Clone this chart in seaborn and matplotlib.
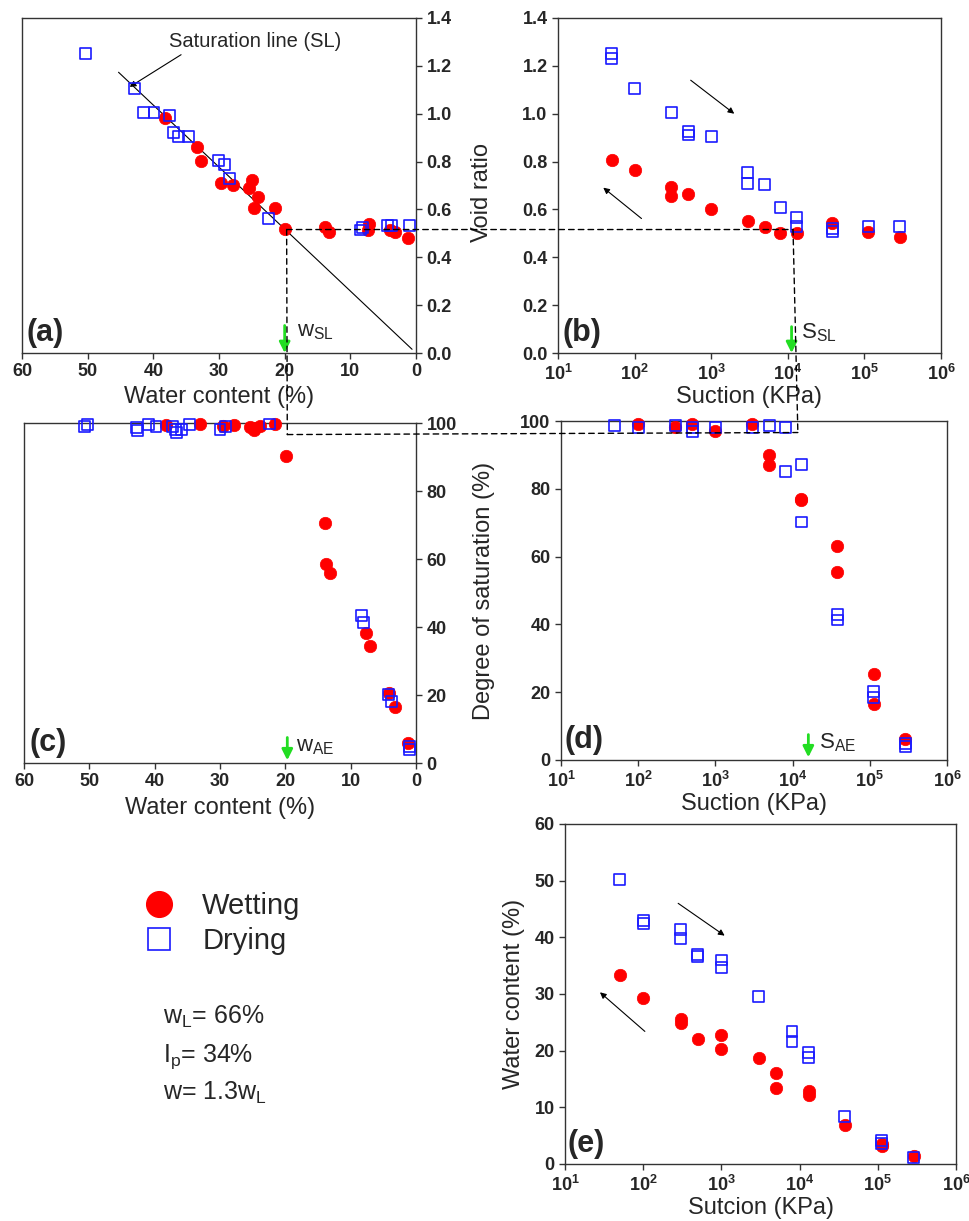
import numpy as np
import pandas as pd
import seaborn as sns
import matplotlib.pyplot as plt
from matplotlib.patches import ConnectionPatch
from matplotlib.lines import Line2D
from matplotlib.ticker import NullLocator

# ---- data ----
# (a) void ratio vs water content
a_wet_w = [38.2, 33.4, 32.8, 29.7, 27.8, 25.0, 25.5, 24.0, 24.7, 21.5, 19.9, 13.9, 13.3, 7.1, 7.3, 4.0, 3.2, 1.2]
a_wet_e = [0.981, 0.860, 0.804, 0.712, 0.701, 0.723, 0.688, 0.653, 0.604, 0.604, 0.519, 0.528, 0.504, 0.539, 0.514, 0.514, 0.504, 0.479]
a_dry_w = [50.3, 42.9, 41.5, 39.9, 37.6, 36.9, 36.1, 34.7, 30.1, 29.2, 28.4, 22.4, 8.4, 8.2, 4.3, 3.8, 1.0]
a_dry_e = [1.253, 1.107, 1.005, 1.005, 0.991, 0.921, 0.904, 0.904, 0.803, 0.786, 0.730, 0.563, 0.514, 0.523, 0.532, 0.532, 0.532]

# (b) void ratio vs suction
b_wet_s = [50, 100, 300, 300, 500, 1000, 3000, 5000, 8000, 13000, 38000, 112000, 290000]
b_wet_e = [0.807, 0.765, 0.695, 0.656, 0.664, 0.602, 0.551, 0.528, 0.502, 0.502, 0.542, 0.504, 0.483]
b_dry_s = [50, 50, 100, 300, 500, 500, 1000, 3000, 3000, 5000, 8000, 13000, 13000, 38000, 38000, 112000, 290000]
b_dry_e = [1.253, 1.232, 1.107, 1.005, 0.925, 0.911, 0.906, 0.754, 0.709, 0.706, 0.607, 0.567, 0.530, 0.521, 0.507, 0.530, 0.530]

# (c) degree of saturation vs water content
c_wet_w = [38.2, 33.1, 29.5, 27.9, 25.4, 24.6, 23.9, 24.8, 21.6, 19.9, 13.9, 13.7, 13.2, 7.6, 7.0, 4.1, 3.2, 1.2]
c_wet_S = [99.5, 99.8, 99.0, 99.5, 98.8, 98.5, 99.0, 98.0, 99.7, 90.2, 70.6, 58.6, 55.9, 38.2, 34.3, 20.6, 16.4, 5.9]
c_dry_w = [50.7, 50.3, 42.8, 42.6, 41.0, 39.8, 37.2, 36.8, 36.6, 35.9, 34.6, 30.0, 29.1, 22.4, 8.3, 8.1, 4.2, 3.7, 1.0, 1.0]
c_dry_S = [98.9, 99.6, 98.6, 97.9, 99.5, 99.1, 99.0, 98.2, 97.3, 98.0, 99.6, 98.2, 99.0, 99.7, 43.3, 41.4, 20.1, 18.1, 4.9, 3.9]

# (d) degree of saturation vs suction
d_wet_s = [100, 300, 500, 1000, 3000, 5000, 5000, 13000, 13000, 38000, 38000, 112000, 112000, 290000]
d_wet_S = [99.2, 98.2, 99.2, 97.0, 99.0, 89.9, 86.9, 77.1, 76.6, 63.1, 55.5, 25.3, 16.5, 6.1]
d_dry_s = [50, 100, 300, 500, 500, 1000, 3000, 5000, 8000, 8000, 13000, 13000, 38000, 38000, 112000, 112000, 290000, 290000]
d_dry_S = [98.7, 98.2, 98.7, 98.2, 96.8, 98.0, 98.2, 98.7, 98.2, 85.0, 87.1, 70.2, 42.9, 41.3, 20.1, 18.4, 4.9, 3.9]

# (e) water content vs suction
e_wet_s = [50, 100, 300, 300, 500, 1000, 1000, 3000, 5000, 5000, 13000, 13000, 38000, 112000, 112000, 290000]
e_wet_w = [33.4, 29.3, 25.6, 24.9, 22.1, 22.8, 20.3, 18.7, 16.0, 13.5, 12.8, 12.1, 6.9, 3.6, 3.1, 1.4]
e_dry_s = [50, 100, 100, 300, 300, 500, 500, 1000, 1000, 3000, 8000, 8000, 13000, 13000, 38000, 112000, 112000, 290000]
e_dry_w = [50.2, 42.9, 42.5, 41.3, 39.8, 36.9, 36.6, 36.0, 34.6, 29.6, 23.4, 21.6, 19.6, 18.8, 8.4, 4.2, 3.6, 1.1]

# saturation line e = Gs * w
sat_w = [45.3, 0.6]
Gs = 2.59
w_SL, e_SL = 19.7, 0.516
s_SL, S_SL = 11700, 96.6
w_AE, s_AE = 19.7, 16000

sns.set_style('ticks')
plt.rcParams['font.family'] = ['Liberation Sans', 'DejaVu Sans']
plt.rcParams['mathtext.fontset'] = 'custom'
plt.rcParams['mathtext.rm'] = 'Liberation Sans'
plt.rcParams['mathtext.it'] = 'Liberation Sans:italic'
plt.rcParams['mathtext.bf'] = 'Liberation Sans:bold'

W, H = 970, 1221
fig = plt.figure(figsize=(W / 100, H / 100), dpi=100)


def add_ax(l, r, t, b):
    return fig.add_axes([l / W, 1 - b / H, (r - l) / W, (b - t) / H])


ax_a = add_ax(22, 416, 18, 353)
ax_b = add_ax(558, 941, 18, 353)
ax_c = add_ax(24, 416, 423, 763)
ax_d = add_ax(561, 947, 421, 760)
ax_e = add_ax(565, 956, 824, 1164)

RED = '#FF0000'
BLUE = '#1A1AFF'
GREEN = '#22DD22'
TICK_FS = 13
LABEL_FS = 17


def scatter(ax, xw, yw, xd, yd):
    sns.scatterplot(x=xw, y=yw, ax=ax, marker='o', s=80, color=RED, edgecolor=RED,
                    linewidth=0.5, clip_on=False, zorder=3)
    sns.scatterplot(x=xd, y=yd, ax=ax, marker='s', s=62, facecolor='none', edgecolor=BLUE,
                    linewidth=1.2, clip_on=False, zorder=4)


def style(ax):
    for sp in ax.spines.values():
        sp.set_visible(True)
        sp.set_color('#333333')
        sp.set_linewidth(1.0)
    ax.tick_params(direction='out', length=4, width=1, color='#333333')
    ax.tick_params(which='minor', length=0)


def log_x(ax):
    ax.set_xscale('log')
    ax.set_xlim(10, 1e6)
    ticks = [10 ** k for k in range(1, 7)]
    ax.set_xticks(ticks)
    ax.set_xticklabels([r'$\mathbf{10^{%d}}$' % k for k in range(1, 7)], fontsize=TICK_FS)
    ax.xaxis.set_minor_locator(NullLocator())


def lin_ticks(ax, axis, ticks, fmt):
    labels = [fmt % t for t in ticks]
    if axis == 'x':
        ax.set_xticks(ticks)
        ax.set_xticklabels(labels, fontweight='bold', fontsize=TICK_FS)
    else:
        ax.set_yticks(ticks)
        ax.set_yticklabels(labels, fontweight='bold', fontsize=TICK_FS)


def panel_tag(ax, tag, x):
    ax.text(x, 0.015, tag, transform=ax.transAxes, fontsize=22, fontweight='bold',
            ha='left', va='bottom')


def green_arrow(ax, x, y0, y1):
    ax.annotate('', xy=(x, y1), xytext=(x, y0),
                arrowprops=dict(arrowstyle='-|>', color=GREEN, lw=2, mutation_scale=16,
                                shrinkA=0, shrinkB=0), zorder=6)


def thin_arrow(ax, p0, p1):
    ax.annotate('', xy=p1, xytext=p0,
                arrowprops=dict(arrowstyle='-|>', color='black', lw=0.8, mutation_scale=9,
                                shrinkA=0, shrinkB=0))


# ---- (a) ----
scatter(ax_a, a_wet_w, a_wet_e, a_dry_w, a_dry_e)
sat_e = [Gs * w / 100 for w in sat_w]
sns.lineplot(x=sat_w, y=sat_e, ax=ax_a, color='black', lw=0.8, sort=False, zorder=2)
ax_a.set_xlim(60, 0)
ax_a.set_ylim(0, 1.4)
ax_a.yaxis.tick_right()
lin_ticks(ax_a, 'x', [60, 50, 40, 30, 20, 10, 0], '%d')
lin_ticks(ax_a, 'y', list(np.arange(0, 1.41, 0.2)), '%.1f')
ax_a.set_xlabel('Water content (%)', fontsize=LABEL_FS)
ax_a.xaxis.set_label_coords(0.5, -0.098)
ax_a.set_ylabel('')
ax_a.annotate('Saturation line (SL)', xy=(43.6, 1.112), xytext=(37.6, 1.30),
              fontsize=14.5, va='center', ha='left',
              arrowprops=dict(arrowstyle='-|>', color='black', lw=0.8, mutation_scale=9,
                              shrinkA=0, shrinkB=0, relpos=(0.1, 0.0)))
green_arrow(ax_a, 20, 0.115, 0.0)
ax_a.text(18.1, 0.07, r'w$_{\rm SL}$', fontsize=16, va='baseline')
panel_tag(ax_a, '(a)', 0.012)

# ---- (b) ----
scatter(ax_b, b_wet_s, b_wet_e, b_dry_s, b_dry_e)
log_x(ax_b)
ax_b.set_ylim(0, 1.4)
lin_ticks(ax_b, 'y', list(np.arange(0, 1.41, 0.2)), '%.1f')
ax_b.set_xlabel('Suction (KPa)', fontsize=LABEL_FS)
ax_b.xaxis.set_label_coords(0.5, -0.098)
ax_b.set_ylabel('Void ratio', fontsize=LABEL_FS)
ax_b.yaxis.set_label_coords(-0.17, 0.48)
thin_arrow(ax_b, (540, 1.14), (2000, 1.0))
thin_arrow(ax_b, (123, 0.562), (39, 0.691))
green_arrow(ax_b, 11200, 0.11, 0.0)
ax_b.text(15000, 0.06, r'S$_{\rm SL}$', fontsize=16, va='baseline')
panel_tag(ax_b, '(b)', 0.013)

# ---- (c) ----
scatter(ax_c, c_wet_w, c_wet_S, c_dry_w, c_dry_S)
ax_c.set_xlim(60, 0)
ax_c.set_ylim(0, 100)
ax_c.yaxis.tick_right()
lin_ticks(ax_c, 'x', [60, 50, 40, 30, 20, 10, 0], '%d')
lin_ticks(ax_c, 'y', [0, 20, 40, 60, 80, 100], '%d')
ax_c.set_xlabel('Water content (%)', fontsize=LABEL_FS)
ax_c.xaxis.set_label_coords(0.5, -0.1)
ax_c.set_ylabel('')
green_arrow(ax_c, w_AE, 7.5, 0.8)
ax_c.text(18.3, 3.3, r'w$_{\rm AE}$', fontsize=16, va='baseline')
panel_tag(ax_c, '(c)', 0.013)

# ---- (d) ----
scatter(ax_d, d_wet_s, d_wet_S, d_dry_s, d_dry_S)
log_x(ax_d)
ax_d.set_ylim(0, 100)
lin_ticks(ax_d, 'y', [0, 20, 40, 60, 80, 100], '%d')
ax_d.set_xlabel('Suction (KPa)', fontsize=LABEL_FS)
ax_d.xaxis.set_label_coords(0.5, -0.097)
ax_d.set_ylabel('Degree of saturation (%)', fontsize=LABEL_FS)
ax_d.yaxis.set_label_coords(-0.171, 0.5)
green_arrow(ax_d, s_AE, 7.5, 0.8)
ax_d.text(22000, 3.5, r'S$_{\rm AE}$', fontsize=16, va='baseline')
panel_tag(ax_d, '(d)', 0.008)

# ---- (e) ----
scatter(ax_e, e_wet_s, e_wet_w, e_dry_s, e_dry_w)
log_x(ax_e)
ax_e.set_ylim(0, 60)
lin_ticks(ax_e, 'y', [0, 10, 20, 30, 40, 50, 60], '%d')
ax_e.set_xlabel('Sutcion (KPa)', fontsize=LABEL_FS)
ax_e.xaxis.set_label_coords(0.5, -0.097)
ax_e.set_ylabel('Water content (%)', fontsize=LABEL_FS)
ax_e.yaxis.set_label_coords(-0.102, 0.5)
thin_arrow(ax_e, (280, 46.0), (1100, 40.3))
thin_arrow(ax_e, (105, 23.4), (28, 30.3))
panel_tag(ax_e, '(e)', 0.006)

for ax in (ax_a, ax_b, ax_c, ax_d, ax_e):
    style(ax)


# ---- dashed guide lines linking panels ----
def dash(axA, xyA, axB, xyB):
    con = ConnectionPatch(xyA=xyA, coordsA=axA.transData, xyB=xyB, coordsB=axB.transData,
                          linestyle=(0, (4, 3)), color='black', lw=1.0, zorder=10)
    fig.add_artist(con)


dash(ax_a, (w_SL, e_SL), ax_b, (s_SL, e_SL))
dash(ax_a, (w_SL, e_SL), ax_c, (w_SL, S_SL))
dash(ax_b, (s_SL, e_SL), ax_d, (s_SL, S_SL))
dash(ax_c, (w_SL, S_SL), ax_d, (s_SL, S_SL))

# ---- legend and soil properties ----
handles = [Line2D([], [], marker='o', ls='', color=RED, markersize=18.5),
           Line2D([], [], marker='s', ls='', markerfacecolor='none', markeredgecolor=BLUE,
                  markersize=16, markeredgewidth=1.2)]
fig.legend(handles, ['Wetting', 'Drying'], loc='center left',
           bbox_to_anchor=(144 / W, 1 - 923.5 / H), frameon=False, fontsize=21,
           handlelength=1.0, handletextpad=1.0, labelspacing=0.25,
           borderpad=0, borderaxespad=0)

props = [r'w$_{\rm L}$= 66%', r'I$_{\rm p}$= 34%', r'w= 1.3w$_{\rm L}$']
for i, t in enumerate(props):
    fig.text(163 / W, 1 - (1024 + 38 * i) / H, t, fontsize=18, va='baseline', ha='left')

fig.savefig('out.png', dpi=100)
